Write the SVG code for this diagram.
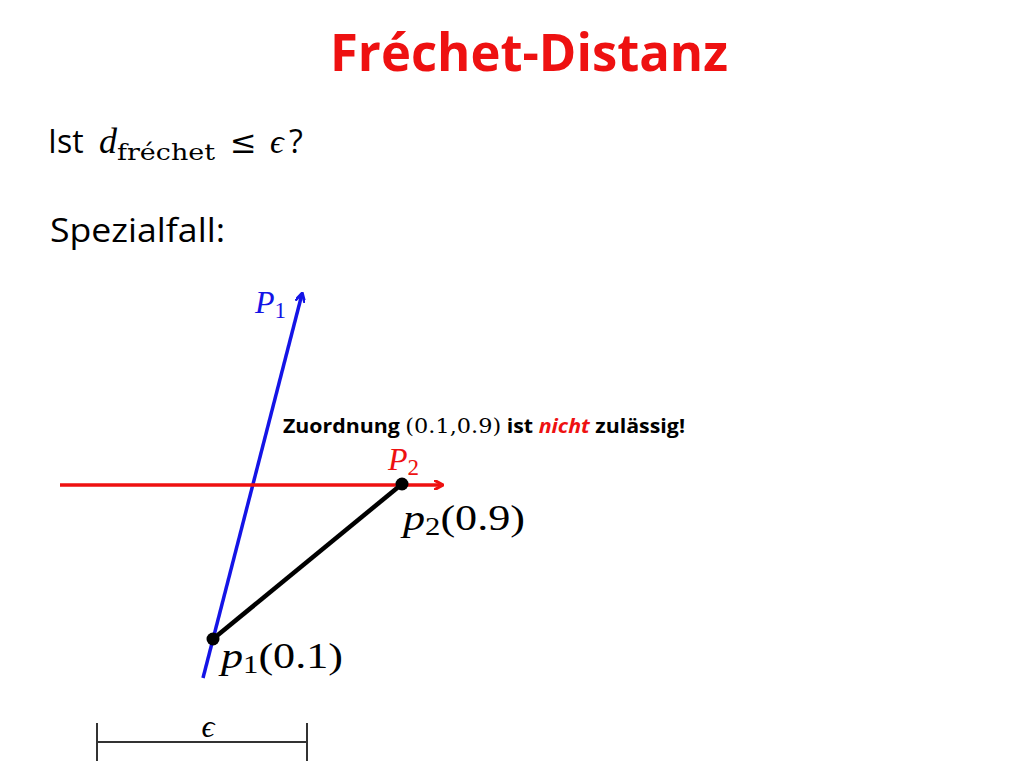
<svg xmlns="http://www.w3.org/2000/svg" width="1024" height="768" viewBox="0 0 1024 768">
<style>
.sans{font-family:"Open Sans","Liberation Sans",sans-serif}
.math{font-family:"DejaVu Serif","Liberation Serif",serif}
.mi{font-family:"Liberation Serif","DejaVu Serif",serif;font-style:italic}
</style>
<defs>
<marker id="ab" markerWidth="10" markerHeight="10" refX="8" refY="5" orient="auto" markerUnits="userSpaceOnUse"><path d="M0,0 L9,5 L0,10" fill="none" stroke="#1414e6" stroke-width="3"/></marker>
<marker id="ar" markerWidth="10" markerHeight="10" refX="8" refY="5" orient="auto" markerUnits="userSpaceOnUse"><path d="M0,0 L9,5 L0,10" fill="none" stroke="#ee1111" stroke-width="3"/></marker>
</defs>
<rect width="1024" height="768" fill="#fff"/>
<text x="529" y="71" text-anchor="middle" class="sans" font-weight="bold" font-size="52" fill="#ee1111" textLength="398" lengthAdjust="spacingAndGlyphs">Fréchet-Distanz</text>
<g id="question">
<text x="48" y="153" class="sans" font-size="32" fill="#000">Ist</text>
<text x="99" y="153" class="mi" font-size="36" fill="#000">d</text>
<text x="117" y="160" class="math" font-size="22" fill="#000" textLength="98" lengthAdjust="spacingAndGlyphs">fréchet</text>
<text x="230" y="153" class="math" font-size="32" fill="#000">≤</text>
<text x="270" y="153" class="mi" font-size="34" fill="#000">ϵ</text>
<text x="289" y="153" class="sans" font-size="32" fill="#000">?</text>
</g>
<text x="50" y="242" class="sans" font-size="33" fill="#000" textLength="175" lengthAdjust="spacingAndGlyphs">Spezialfall:</text>
<g id="connectors">
<line x1="203" y1="678" x2="302" y2="294" stroke="#1414e6" stroke-width="3.5" marker-end="url(#ab)"/>
<line x1="60" y1="485" x2="442" y2="485" stroke="#ee1111" stroke-width="3.5" marker-end="url(#ar)"/>
<line x1="213" y1="639" x2="402" y2="484" stroke="#000" stroke-width="4.5"/>
</g>
<g id="P1"><text x="255" y="313" class="mi" font-size="32" fill="#1414e6">P<tspan dy="5" font-size="23" font-style="normal">1</tspan></text></g>
<g id="P2"><text x="388" y="470" class="mi" font-size="32" fill="#ee1111">P<tspan dy="5" font-size="23" font-style="normal">2</tspan></text></g>
<g id="p2"><circle cx="402" cy="484" r="6.5" fill="#000"/>
<text x="403" y="530" class="mi" font-size="36" fill="#000" textLength="122" lengthAdjust="spacingAndGlyphs">p<tspan dy="5" font-size="25" font-style="normal">2</tspan><tspan dy="-5" font-size="36" font-style="normal">(0.9)</tspan></text></g>
<g id="p1"><circle cx="213" cy="639" r="6.5" fill="#000"/>
<text x="221" y="668" class="mi" font-size="36" fill="#000" textLength="122" lengthAdjust="spacingAndGlyphs">p<tspan dy="5" font-size="25" font-style="normal">1</tspan><tspan dy="-5" font-size="36" font-style="normal">(0.1)</tspan></text></g>
<g id="note"><text x="283" y="433" class="sans" font-size="20" font-weight="bold" fill="#000" textLength="402" lengthAdjust="spacingAndGlyphs">Zuordnung <tspan class="math" font-weight="normal" font-size="21">(0.1,0.9)</tspan> ist <tspan fill="#ee1111" font-style="italic">nicht</tspan> zulässig!</text></g>
<g id="epsilon">
<line x1="97" y1="742" x2="307" y2="742" stroke="#333" stroke-width="2"/>
<line x1="97" y1="723" x2="97" y2="761" stroke="#333" stroke-width="2"/>
<line x1="307" y1="723" x2="307" y2="761" stroke="#333" stroke-width="2"/>
<text x="208" y="737" text-anchor="middle" class="mi" font-size="32" fill="#000">ϵ</text>
</g>
</svg>
